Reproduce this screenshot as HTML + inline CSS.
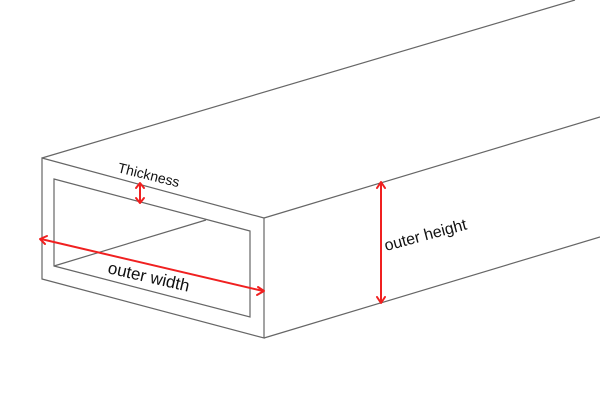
<!DOCTYPE html>
<html><head><meta charset="utf-8"><style>
html,body{margin:0;padding:0;background:#fff;}
svg{display:block;}
text{font-family:"Liberation Sans","DejaVu Sans",sans-serif;fill:#111;}
</style></head><body>
<svg width="600" height="400" viewBox="0 0 600 400" xmlns="http://www.w3.org/2000/svg">
<g stroke="#666" stroke-width="1.2" fill="none">
  <line x1="42" y1="158" x2="575" y2="0"/>
  <line x1="264" y1="218" x2="600" y2="117"/>
  <line x1="264" y1="338" x2="600" y2="237"/>
  <polygon points="42,158 264,218 264,338 42,279"/>
  <polygon points="54,179 250,231 250,317 54,266"/>
  <line x1="54" y1="266" x2="206" y2="220"/>
</g>
<g stroke="#f02020" stroke-width="2" fill="none" stroke-linecap="round" stroke-linejoin="round">
  <line x1="140" y1="184" x2="140" y2="202"/>
  <polyline points="136,188 140,183 144,188"/>
  <polyline points="136,198 140,203 144,198"/>
  <line x1="41" y1="239" x2="263" y2="291"/>
  <polyline points="47,236 40,239 45,244"/>
  <polyline points="258,287 264,291 257,295"/>
  <line x1="381" y1="183" x2="381" y2="302"/>
  <polyline points="377,188 381,182 385,188"/>
  <polyline points="377,297 381,303 385,297"/>
</g>
<text x="117" y="172" font-size="14" transform="rotate(14 117 172)">Thickness</text>
<text x="107" y="273" font-size="17" transform="rotate(13 107 273)">outer width</text>
<text x="386" y="251" font-size="16" transform="rotate(-15 386 251)">outer height</text>
</svg>
</body></html>
